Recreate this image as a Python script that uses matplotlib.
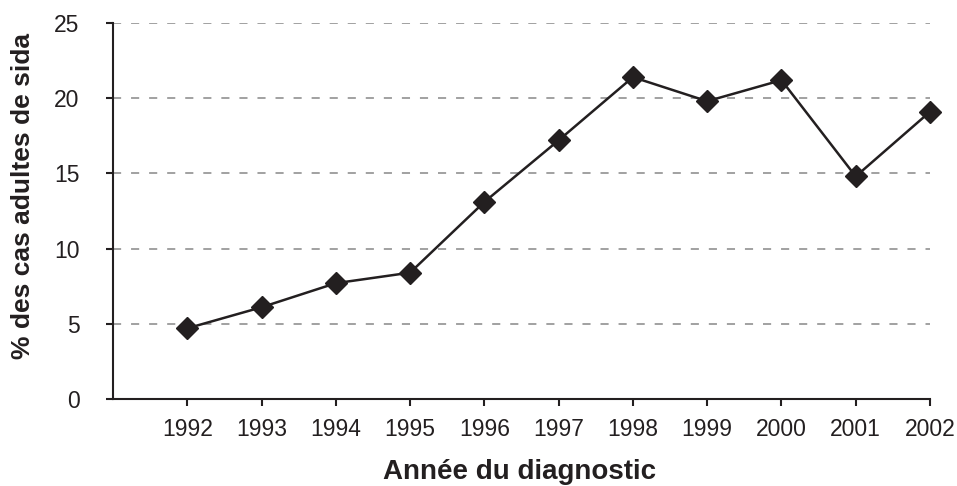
import matplotlib
matplotlib.use("Agg")
import matplotlib.pyplot as plt

years = [1992, 1993, 1994, 1995, 1996, 1997, 1998, 1999, 2000, 2001, 2002]
pct_sida = [4.7, 6.1, 7.7, 8.4, 13.1, 17.2, 21.4, 19.8, 21.2, 14.8, 19.1]
yticks = [0, 5, 10, 15, 20, 25]

plt.rcParams["font.family"] = ["Liberation Sans", "DejaVu Sans"]
ink = "#231f20"

fig = plt.figure(figsize=(9.57, 4.86), dpi=100)
ax = fig.add_axes([113 / 957, 1 - 399 / 486, (930 - 113) / 957, (399 - 23) / 486])

for v in yticks[1:]:
    ax.axhline(v, color="#9a9a9a", lw=1.3, ls=(0, (4.5, 5.5)), zorder=1)

ax.plot(years, pct_sida, color=ink, lw=1.8, marker="D", ms=11,
        markerfacecolor=ink, markeredgecolor=ink, zorder=3, clip_on=False)

ax.set_xlim(1991, 2002)
ax.set_ylim(0, 25)
ax.set_xticks(years)
ax.set_xticklabels([str(y) for y in years])
ax.set_yticks(yticks)

for s in ("top", "right"):
    ax.spines[s].set_visible(False)
for s in ("left", "bottom"):
    ax.spines[s].set_color(ink)
    ax.spines[s].set_linewidth(1.5)

ax.tick_params(axis="both", direction="out", length=5, width=1.5, color=ink,
               labelsize=16.5, labelcolor=ink)
ax.tick_params(axis="x", pad=9)
ax.tick_params(axis="y", pad=19)

ax.set_xlabel("Année du diagnostic", fontsize=20, fontweight="bold", color=ink)
ax.set_ylabel("% des cas adultes de sida", fontsize=19, fontweight="bold", color=ink)
ax.xaxis.set_label_coords((520 - 113) / (930 - 113), -(472 - 399) / (399 - 23))
ax.yaxis.set_label_coords(-(113 - 23) / (930 - 113), (399 - 196) / (399 - 23))
ax.xaxis.label.set_va("center")
ax.yaxis.label.set_va("center")

fig.savefig("out.png", dpi=100)
